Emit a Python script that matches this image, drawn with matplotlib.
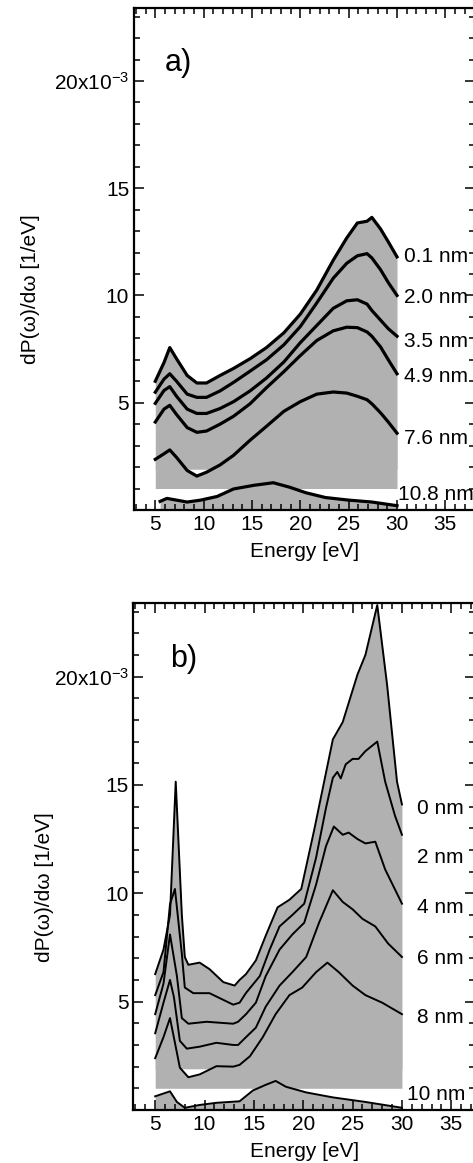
import numpy as np
import matplotlib.pyplot as plt
from matplotlib.ticker import MultipleLocator

plt.rcParams['font.family'] = ['Liberation Sans', 'DejaVu Sans']

# ---- panel a) : measured spectra (values in units of 1e-3 1/eV) ----
energy_a = [5, 5.9, 6.5, 7.2, 8.3, 9.3, 10.3, 11.7, 13.1, 14.8, 16.5, 18.3,
            20.0, 21.7, 23.4, 24.8, 25.9, 26.9, 27.4, 28.3, 29.1, 30.0]
a_01 = [6.0, 6.87, 7.57, 7.05, 6.27, 5.92, 5.92, 6.27, 6.6, 7.05, 7.57, 8.26,
        9.13, 10.25, 11.64, 12.68, 13.38, 13.46, 13.64, 13.1, 12.5, 11.8]
a_20 = [5.49, 6.1, 6.35, 6.0, 5.4, 5.25, 5.25, 5.55, 5.95, 6.47, 7.0, 7.7,
        8.55, 9.65, 10.8, 11.5, 11.85, 11.95, 11.75, 11.2, 10.6, 10.0]
a_35 = [4.97, 5.57, 5.75, 5.3, 4.7, 4.5, 4.5, 4.73, 5.05, 5.55, 6.15, 6.9,
        7.8, 8.6, 9.4, 9.75, 9.8, 9.6, 9.3, 8.85, 8.45, 8.1]
a_49 = [4.1, 4.7, 4.88, 4.45, 3.84, 3.62, 3.68, 4.0, 4.37, 4.95, 5.7, 6.45,
        7.2, 7.9, 8.35, 8.52, 8.5, 8.3, 8.1, 7.6, 7.0, 6.35]
a_76 = [2.36, 2.62, 2.8, 2.45, 1.84, 1.58, 1.76, 2.1, 2.55, 3.25, 3.9, 4.6,
        5.05, 5.4, 5.5, 5.45, 5.3, 5.14, 4.95, 4.53, 4.1, 3.58]
energy_a108 = [5.5, 6.2, 8.3, 9.7, 11.4, 13.1, 15.2, 17.2, 18.9, 20.6, 22.6,
               25.0, 27.4, 30.0]
a_108 = [0.4, 0.54, 0.37, 0.46, 0.63, 0.98, 1.15, 1.27, 1.06, 0.8, 0.58,
         0.46, 0.37, 0.2]
labels_a = ['0.1 nm', '2.0 nm', '3.5 nm', '4.9 nm', '7.6 nm', '10.8 nm']
label_y_a = [11.8, 9.9, 7.86, 6.2, 3.33, 0.73]
label_x_a = [30.75, 30.75, 30.75, 30.75, 30.75, 30.1]

# ---- panel b) : calculated spectra ----
e_b0 = [5, 5.84, 6.5, 7.08, 7.7, 8.0, 8.36, 9.5, 10.5, 11.9, 13.05, 13.55,
        14.2, 15.2, 16.25, 17.4, 18.6, 19.8, 21.1, 23.0, 24.0, 25.5, 26.3,
        27.5, 28.5, 29.5, 30]
b_0 = [6.27, 7.4, 9.0, 15.15, 9.0, 7.06, 6.7, 6.8, 6.5, 5.9, 5.74, 6.0,
       6.27, 6.9, 8.1, 9.35, 9.7, 10.2, 12.9, 17.1, 17.9, 20.1, 21.0,
       23.3, 19.6, 15.15, 14.1]
e_b2 = [5, 5.84, 6.5, 7.0, 7.7, 8.0, 8.86, 10.5, 12.9, 13.55, 14.2, 15.6,
        16.6, 17.6, 18.9, 20.1, 21.3, 22.3, 23.0, 23.45, 23.8, 24.3, 25.0,
        25.6, 26.3, 27.5, 28.3, 29.3, 30]
b_2 = [5.3, 6.36, 9.5, 10.2, 7.2, 5.65, 5.39, 5.39, 4.86, 4.95, 5.4, 6.18,
       7.4, 8.47, 9.0, 9.52, 11.64, 13.93, 15.33, 15.6, 15.3, 15.95, 16.2,
       16.2, 16.56, 17.0, 15.15, 13.57, 12.7]
e_b4 = [5, 5.84, 6.5, 7.2, 7.7, 8.36, 10.2, 12.9, 13.4, 14.2, 15.2, 16.2,
        17.6, 18.9, 20.1, 21.3, 22.3, 23.1, 24.0, 24.6, 25.5, 26.3, 27.3,
        28.3, 30]
b_4 = [4.42, 5.83, 8.1, 6.18, 4.24, 3.98, 4.07, 3.98, 4.07, 4.42, 4.95, 6.18,
       7.4, 8.1, 8.64, 10.4, 12.17, 13.08, 12.7, 12.8, 12.5, 12.3, 12.38,
       11.1, 9.52]
e_b6 = [5, 5.84, 6.5, 6.9, 7.5, 8.2, 9.5, 11.2, 12.9, 13.4, 14.2, 15.2,
        16.2, 17.6, 18.9, 20.3, 21.6, 23.0, 24.0, 25.0, 26.0, 27.3, 28.6, 30]
b_6 = [3.54, 4.95, 6.0, 5.2, 3.19, 2.83, 2.92, 3.1, 3.0, 3.0, 3.36, 3.8,
       4.77, 5.74, 6.36, 7.06, 8.64, 10.14, 9.6, 9.26, 8.82, 8.47, 7.68, 7.06]
e_b8 = [5, 5.84, 6.5, 7.0, 7.5, 8.36, 9.5, 11.2, 12.9, 13.55, 14.6, 15.9,
        17.2, 18.6, 19.9, 21.3, 22.45, 23.6, 25.0, 26.3, 28.0, 30]
b_8 = [2.39, 3.36, 4.24, 3.1, 1.95, 1.51, 1.64, 2.02, 2.0, 2.08, 2.48, 3.36,
       4.42, 5.3, 5.65, 6.36, 6.8, 6.36, 5.74, 5.3, 4.95, 4.42]
e_b10 = [5, 6.5, 7.2, 8.0, 9.5, 11.2, 13.55, 14.9, 16.2, 17.2, 18.25, 20.3,
         23.0, 26.3, 30]
b_10 = [0.63, 0.86, 0.37, 0.1, 0.23, 0.33, 0.4, 0.9, 1.16, 1.34, 1.07, 0.81,
        0.58, 0.37, 0.1]
labels_b = ['0 nm', '2 nm', '4 nm', '6 nm', '8 nm', '10 nm']
label_y_b = [13.9, 11.67, 9.35, 6.97, 4.25, 0.72]
label_x_b = [31.5, 31.5, 31.5, 31.5, 31.5, 30.5]

FILL = '#b1b1b1'
FS = 15
base_low = 1.0     # fill level of the lowest stacked spectrum
base_upper = 1.9   # fill level of the spectra above it


def style_axes(ax, xmax, panel, px):
    ax.set_xlim(2.8, xmax)
    ax.set_ylim(0, 23.4)
    ax.xaxis.set_minor_locator(MultipleLocator(1))
    ax.yaxis.set_minor_locator(MultipleLocator(1))
    ax.set_xticks([5, 10, 15, 20, 25, 30, 35])
    ax.set_yticks([5, 10, 15, 20])
    ax.set_yticklabels(['5', '10', '15', r'$\mathregular{20x10^{-3}}$'])
    ax.tick_params(which='both', direction='in', top=True, right=True,
                   labelsize=FS, width=1.1)
    ax.tick_params(which='major', length=7)
    ax.tick_params(which='minor', length=4)
    for s in ax.spines.values():
        s.set_linewidth(1.6)
    ax.set_xlabel('Energy [eV]', fontsize=FS, labelpad=6)
    ax.set_ylabel('dP(ω)/dω [1/eV]', fontsize=FS)
    ax.text(px, 0.89, panel, transform=ax.transAxes, fontsize=22,
            ha='left', va='center')


def shade(ax, x_top, top, x_low, low, x_bot, bot):
    ax.fill_between(x_top, base_upper, top, color=FILL, lw=0)
    ax.fill_between(x_low, base_low, low, color=FILL, lw=0)
    ax.fill_between(x_bot, 0, bot, color=FILL, lw=0)


fig = plt.figure(figsize=(4.73, 11.63), dpi=100)
ax_a = fig.add_axes([0.2833, 0.5615, 0.721, 0.4316])
ax_b = fig.add_axes([0.2822, 0.0456, 0.722, 0.436])

# ---- a) ----
shade(ax_a, energy_a, a_01, energy_a, a_76, energy_a108, a_108)
for vals in (a_01, a_20, a_35, a_49, a_76):
    ax_a.plot(energy_a, vals, color='black', lw=2.3)
ax_a.plot(energy_a108, a_108, color='black', lw=2.3)
for lab, lx, ly in zip(labels_a, label_x_a, label_y_a):
    ax_a.text(lx, ly, lab, fontsize=FS, ha='left', va='center')
style_axes(ax_a, 38.07, 'a)', 0.09)
ax_a.yaxis.set_label_coords(-0.275, 0.44)

# ---- b) ----
shade(ax_b, e_b0, b_0, e_b8, b_8, e_b10, b_10)
for xs, vals in ((e_b0, b_0), (e_b2, b_2), (e_b4, b_4), (e_b6, b_6),
                 (e_b8, b_8), (e_b10, b_10)):
    ax_b.plot(xs, vals, color='black', lw=1.4)
for lab, lx, ly in zip(labels_b, label_x_b, label_y_b):
    ax_b.text(lx, ly, lab, fontsize=FS, ha='left', va='center')
style_axes(ax_b, 37.4, 'b)', 0.107)
ax_b.yaxis.set_label_coords(-0.234, 0.44)

fig.savefig('out.png', dpi=100)
